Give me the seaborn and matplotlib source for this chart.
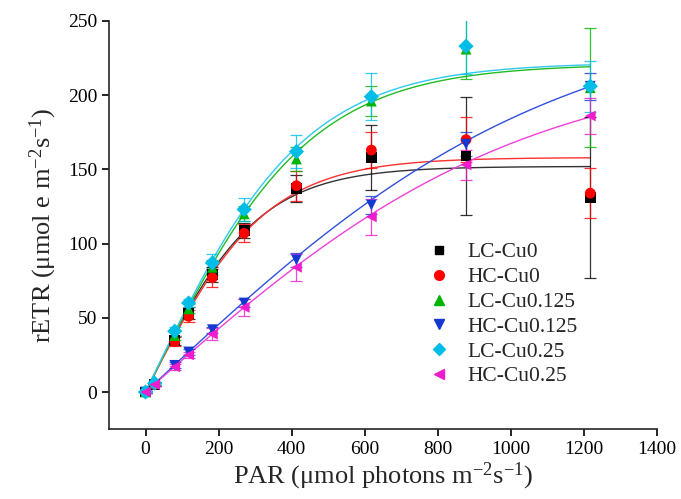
import numpy as np
import pandas as pd
import matplotlib
matplotlib.use("Agg")
import matplotlib.pyplot as plt
import seaborn as sns
from matplotlib.lines import Line2D

# ---- data ----
par = [0, 25, 80, 118, 183, 270, 413, 618, 877, 1217]
series = ["LC-Cu0", "HC-Cu0", "LC-Cu0.125", "HC-Cu0.125", "LC-Cu0.25", "HC-Cu0.25"]
lc_cu0 = [0, 5, 35, 53, 79, 109, 137, 158, 159, 131]
hc_cu0 = [0, 5, 34, 51, 77, 107, 139, 163, 170, 134]
lc_cu0125 = [0, 6, 38, 56, 84, 120, 157, 196, 231, 205]
hc_cu0125 = [0, 5, 18, 27, 42, 60, 89, 126, 167, 206]
lc_cu025 = [0, 6, 41, 60, 87, 123, 162, 199, 233, 206]
hc_cu025 = [0, 5, 17, 25, 39, 57, 84, 118, 153, 186]

sd_lc_cu0 = [0.5, 1, 3, 4, 5, 5, 9, 22, 40, 54]
sd_hc_cu0 = [0.5, 1, 3, 4, 6, 6, 10, 12, 15, 17]
sd_lc_cu0125 = [0.5, 1, 3, 3, 5, 5, 8, 10, 20, 40]
sd_hc_cu0125 = [0.5, 1, 2, 2, 2, 3, 5, 6, 8, 9]
sd_lc_cu025 = [0.5, 1, 3, 3, 6, 8, 11, 16, 19, 17]
sd_hc_cu025 = [0.5, 1, 2, 2, 4, 6, 9, 12, 10, 12]

# fitted model parameters (rETR = Pm * tanh(alpha * PAR / Pm))
fit_pm = [152, 158, 221, 260, 222, 225]
fit_alpha = [0.50, 0.482, 0.498, 0.23, 0.515, 0.216]

values = [lc_cu0, hc_cu0, lc_cu0125, hc_cu0125, lc_cu025, hc_cu025]
sds = [sd_lc_cu0, sd_hc_cu0, sd_lc_cu0125, sd_hc_cu0125, sd_lc_cu025, sd_hc_cu025]

colors = ["#000000", "#ff0000", "#00b400", "#1438d0", "#00bde8", "#ee1ccc"]
line_colors = ["#333333", "#ff3030", "#22bb22", "#3050e0", "#30c8f0", "#f040d8"]
markers = ["s", "o", "^", "v", "D", "<"]
msizes = [7, 8, 8, 8, 7, 8]

sns.set_theme(style="ticks")
plt.rcParams["font.family"] = ["Liberation Serif", "DejaVu Serif"]
plt.rcParams["mathtext.fontset"] = "custom"
plt.rcParams["mathtext.rm"] = "Liberation Serif"

df = pd.DataFrame({
    "PAR": np.tile(par, len(series)),
    "rETR": np.concatenate(values),
    "sd": np.concatenate(sds),
    "group": np.repeat(series, len(par)),
})

fig = plt.figure(figsize=(6.81, 4.99), dpi=100)
ax = fig.add_axes([0.160, 0.140, 0.805, 0.818])

# fitted curves
curve_x = np.linspace(0, max(par), 300)
curves = []
for name, pm, a in zip(series, fit_pm, fit_alpha):
    curves.append(pd.DataFrame({"PAR": curve_x,
                                "rETR": pm * np.tanh(a * curve_x / pm),
                                "group": name}))
cdf = pd.concat(curves)
sns.lineplot(data=cdf, x="PAR", y="rETR", hue="group", hue_order=series,
             palette=dict(zip(series, line_colors)), linewidth=1.0,
             legend=False, ax=ax, zorder=2)

# error bars and points
for name, c, m, ms in zip(series, colors, markers, msizes):
    sub = df[df["group"] == name]
    ax.errorbar(sub["PAR"], sub["rETR"], yerr=sub["sd"], fmt="none",
                ecolor=c, elinewidth=0.9, capsize=4, capthick=0.9, zorder=3,
                alpha=0.8)
sns.scatterplot(data=df, x="PAR", y="rETR", hue="group", style="group",
                hue_order=series, style_order=series,
                palette=dict(zip(series, colors)),
                markers=dict(zip(series, markers)), s=60, linewidth=0,
                legend=False, ax=ax, zorder=4)

ax.set_xlim(-100, 1400)
ax.set_ylim(-25, 250)
ax.set_xticks(range(0, 1401, 200))
ax.set_yticks(range(0, 251, 50))
ax.spines["top"].set_visible(False)
ax.spines["right"].set_visible(False)
for s in ["left", "bottom"]:
    ax.spines[s].set_linewidth(1.2)
ax.tick_params(axis="both", direction="out", length=5, width=1.2,
               labelsize=14, color="black", labelcolor="black")

ax.set_xlabel(r"PAR ($\mathregular{\mu}$mol photons m$\mathregular{^{-2}}$s$\mathregular{^{-1}}$)",
              fontsize=19, labelpad=2)
ax.set_ylabel(r"rETR ($\mathregular{\mu}$mol e m$\mathregular{^{-2}}$s$\mathregular{^{-1}}$)",
              fontsize=19, labelpad=6)

handles = [Line2D([], [], linestyle="none", marker=m, color=c, markersize=ms - 1)
           for m, c, ms in zip(markers, colors, msizes)]
ax.legend(handles, series, loc="center left", bbox_to_anchor=(0.583, 0.281),
          frameon=False, fontsize=15.5, handletextpad=0.8, labelspacing=0.22,
          handlelength=1.0, borderaxespad=0, borderpad=0)

fig.savefig("out.png", dpi=100)
